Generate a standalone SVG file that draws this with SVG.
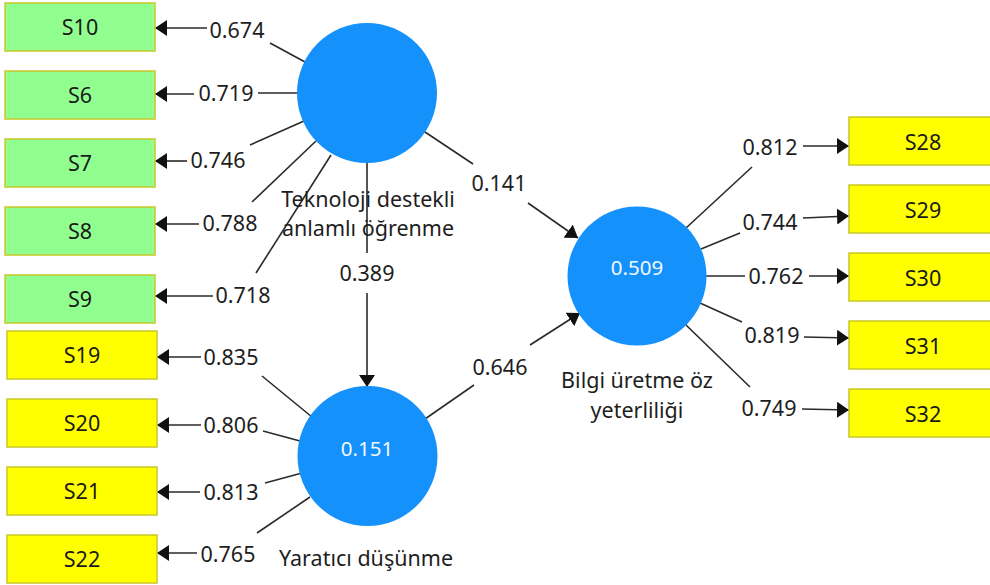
<svg xmlns="http://www.w3.org/2000/svg" width="990" height="585" viewBox="0 0 990 585">
  <defs>
    <marker id="arrow" markerUnits="userSpaceOnUse" viewBox="0 0 12 16" refX="12" refY="8" markerWidth="12" markerHeight="16" orient="auto">
      <path d="M0,0 L12,8 L0,16 Z" fill="#111"/>
    </marker>
    <style>
      .bg { fill: #ffffff; }
      .ind-g { fill: #90ff90; stroke: #c8c828; stroke-width: 1.5; }
      .ind-y { fill: #ffff00; stroke: #c8c828; stroke-width: 1.5; }
      .lv { fill: #1591fc; }
      .ln { stroke: #2a2a2a; stroke-width: 1.6; fill: none; }
      .arr { stroke: #2a2a2a; stroke-width: 1.6; fill: none; marker-end: url(#arrow); }
      text { font-family: "Noto Sans", "Open Sans", sans-serif; font-size: 21.5px; fill: #1e1e1e; text-anchor: middle; }
      .box-t { fill: #1a1a1a; }
      .lv-t { fill: #f2f8ff; font-size: 20.5px; }
    </style>
  </defs>

  <rect class="bg" x="0" y="0" width="990" height="585"/>

  <!-- connectors: outer loadings and path coefficients -->
  <g id="connectors">
    <!-- Teknoloji destekli anlamlı öğrenme -> indicators -->
    <line class="ln" x1="305" y1="62" x2="270" y2="43"/>
    <line class="arr" x1="207" y1="28" x2="155" y2="28"/>
    <line class="ln" x1="300" y1="93" x2="258" y2="93"/>
    <line class="arr" x1="194" y1="94" x2="155" y2="94"/>
    <line class="ln" x1="304" y1="121" x2="250" y2="145"/>
    <line class="arr" x1="187" y1="161" x2="155" y2="161"/>
    <line class="ln" x1="316" y1="141" x2="252" y2="202"/>
    <line class="arr" x1="199" y1="224" x2="155" y2="224"/>
    <line class="ln" x1="331" y1="155" x2="256" y2="273"/>
    <line class="arr" x1="213" y1="296" x2="155" y2="296"/>

    <!-- Yaratıcı düşünme -> indicators -->
    <line class="ln" x1="312" y1="417" x2="262" y2="376"/>
    <line class="arr" x1="201" y1="357" x2="157" y2="357"/>
    <line class="ln" x1="300" y1="441" x2="263" y2="431"/>
    <line class="arr" x1="201" y1="425" x2="157" y2="425"/>
    <line class="ln" x1="302" y1="473" x2="265" y2="483"/>
    <line class="arr" x1="200" y1="492" x2="157" y2="492"/>
    <line class="ln" x1="310" y1="497" x2="257" y2="533"/>
    <line class="arr" x1="197" y1="553" x2="157" y2="553"/>

    <!-- Bilgi üretme öz yeterliliği -> indicators -->
    <line class="ln" x1="686" y1="228" x2="752" y2="167"/>
    <line class="arr" x1="803" y1="146" x2="849" y2="146"/>
    <line class="ln" x1="701" y1="249" x2="740" y2="233"/>
    <line class="arr" x1="803" y1="218" x2="849" y2="216"/>
    <line class="ln" x1="705" y1="276" x2="745" y2="276"/>
    <line class="arr" x1="809" y1="276" x2="849" y2="276"/>
    <line class="ln" x1="700" y1="303" x2="742" y2="322"/>
    <line class="arr" x1="804" y1="337" x2="849" y2="338"/>
    <line class="ln" x1="686" y1="325" x2="750" y2="387"/>
    <line class="arr" x1="802" y1="409" x2="849" y2="410"/>

    <!-- structural paths -->
    <line class="ln" x1="422" y1="130" x2="473" y2="164"/>
    <line class="arr" x1="528" y1="203" x2="578" y2="238"/>
    <line class="ln" x1="367" y1="160" x2="367" y2="253"/>
    <line class="arr" x1="367" y1="293" x2="367" y2="387"/>
    <line class="ln" x1="425" y1="419" x2="474" y2="385"/>
    <line class="arr" x1="530" y1="345" x2="580" y2="313"/>
  </g>

  <!-- connector labels -->
  <g id="connector-labels">
    <text x="237" y="38">0.674</text>
    <text x="226" y="101">0.719</text>
    <text x="218" y="168">0.746</text>
    <text x="230" y="231">0.788</text>
    <text x="243" y="303">0.718</text>
    <text x="231" y="365">0.835</text>
    <text x="231" y="433">0.806</text>
    <text x="231" y="500">0.813</text>
    <text x="228" y="562">0.765</text>
    <text x="770" y="155">0.812</text>
    <text x="770" y="230">0.744</text>
    <text x="776" y="284">0.762</text>
    <text x="772" y="343">0.819</text>
    <text x="769" y="416">0.749</text>
    <text x="499" y="191">0.141</text>
    <text x="367" y="281">0.389</text>
    <text x="500" y="375">0.646</text>
  </g>

  <!-- latent variables -->
  <g id="lv-teknoloji">
    <circle class="lv" cx="367" cy="93" r="70"/>
    <text x="368" y="207">Teknoloji destekli</text>
    <text x="368" y="236">anlamlı öğrenme</text>
  </g>
  <g id="lv-yaratici">
    <circle class="lv" cx="367.5" cy="456" r="70"/>
    <text class="lv-t" x="367" y="455.5">0.151</text>
    <text x="366" y="566">Yaratıcı düşünme</text>
  </g>
  <g id="lv-bilgi">
    <circle class="lv" cx="637" cy="276" r="69.5"/>
    <text class="lv-t" x="637" y="274.5">0.509</text>
    <text x="637" y="388">Bilgi üretme öz</text>
    <text x="637" y="418">yeterliliği</text>
  </g>

  <!-- indicators -->
  <g id="S10"><rect class="ind-g" x="5" y="3" width="150" height="48"/><text class="box-t" x="80" y="35">S10</text></g>
  <g id="S6"><rect class="ind-g" x="5" y="71" width="150" height="48"/><text class="box-t" x="80" y="103">S6</text></g>
  <g id="S7"><rect class="ind-g" x="5" y="139" width="150" height="48"/><text class="box-t" x="80" y="171">S7</text></g>
  <g id="S8"><rect class="ind-g" x="5" y="207" width="150" height="48"/><text class="box-t" x="80" y="239">S8</text></g>
  <g id="S9"><rect class="ind-g" x="5" y="275" width="150" height="48"/><text class="box-t" x="80" y="307">S9</text></g>
  <g id="S19"><rect class="ind-y" x="7" y="331" width="150" height="48"/><text class="box-t" x="82" y="363">S19</text></g>
  <g id="S20"><rect class="ind-y" x="7" y="399" width="150" height="48"/><text class="box-t" x="82" y="431">S20</text></g>
  <g id="S21"><rect class="ind-y" x="7" y="467" width="150" height="48"/><text class="box-t" x="82" y="499">S21</text></g>
  <g id="S22"><rect class="ind-y" x="7" y="535" width="150" height="48"/><text class="box-t" x="82" y="567">S22</text></g>
  <g id="S28"><rect class="ind-y" x="849" y="117" width="150" height="48"/><text class="box-t" x="923" y="150">S28</text></g>
  <g id="S29"><rect class="ind-y" x="849" y="185" width="150" height="48"/><text class="box-t" x="923" y="218">S29</text></g>
  <g id="S30"><rect class="ind-y" x="849" y="253" width="150" height="48"/><text class="box-t" x="923" y="286">S30</text></g>
  <g id="S31"><rect class="ind-y" x="849" y="321" width="150" height="48"/><text class="box-t" x="923" y="354">S31</text></g>
  <g id="S32"><rect class="ind-y" x="849" y="389" width="150" height="48"/><text class="box-t" x="923" y="422">S32</text></g>
</svg>
